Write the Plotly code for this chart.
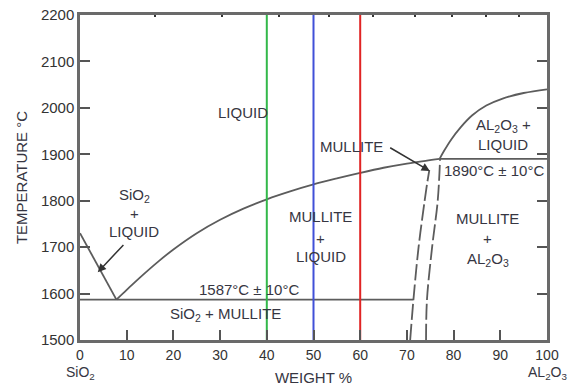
import plotly.graph_objects as go

# ---------------- data (weight % Al2O3, temperature in °C) ----------------
T_MIN, T_MAX = 1500, 2200
x_ticks = [0, 10, 20, 30, 40, 50, 60, 70, 80, 90, 100]
t_ticks = [1500, 1600, 1700, 1800, 1900, 2000, 2100, 2200]
top_tick_x = [16, 30.4, 42.6, 53.4, 62.7, 71.8, 79.6, 87, 94.1]

sio2_liquidus_x = [0, 7.8]
sio2_liquidus_t = [1730, 1587]

mullite_liquidus_x = [7.8, 10, 13, 17, 20, 25, 30, 35, 40, 45, 50, 55, 60, 65, 70, 74, 77]
mullite_liquidus_t = [1587, 1608, 1636, 1671, 1695, 1730, 1759, 1783, 1803, 1820, 1835, 1848, 1860, 1871, 1880, 1886, 1890]

al2o3_liquidus_x = [77, 78, 79.5, 81.5, 84, 87, 90.5, 95, 100]
al2o3_liquidus_t = [1890, 1908, 1932, 1958, 1984, 2005, 2020, 2032, 2040]

eutectic_x = [0, 71.4]
eutectic_t = [1587, 1587]

peritectic_x = [77, 100]
peritectic_t = [1890, 1890]

mullite_left_x = [70.7, 71.4, 72.5, 73.8, 74.3, 74.8]
mullite_left_t = [1500, 1587, 1700, 1800, 1835, 1866]

mullite_right_x = [74.1, 74.3, 75.4, 76.6, 77.1]
mullite_right_t = [1500, 1587, 1700, 1800, 1890]

ref_x = [40, 50, 60]
ref_colors = ["#33b84a", "#4150d8", "#e02424"]

# labels: (text, x, T)
labels = [
    ("LIQUID", 34.8, 1989),
    ("MULLITE", 58.2, 1916),
    ("SiO<sub>2</sub>", 11.6, 1812),
    ("+", 11.6, 1773),
    ("LIQUID", 11.6, 1734),
    ("MULLITE", 51.6, 1765),
    ("+", 51.6, 1719),
    ("LIQUID", 51.6, 1680),
    ("AL<sub>2</sub>O<sub>3</sub> +", 90.6, 1963),
    ("LIQUID", 90.6, 1922),
    ("1890°C ± 10°C", 88.6, 1866),
    ("MULLITE", 87.3, 1762),
    ("+", 87.3, 1719),
    ("AL<sub>2</sub>O<sub>3</sub>", 87.3, 1674),
    ("1587°C ± 10°C", 36.1, 1609),
    ("SiO<sub>2</sub> + MULLITE", 31.1, 1555),
]

# arrows: (tail x, tail T, head x, head T)
arrows = [
    (66.1, 1916, 74.9, 1864),
    (9.6, 1708, 3.8, 1646),
]

# ---------------- figure ----------------
LINE = "#5c5c5c"
TEXT = "#363642"
FONT = "Liberation Sans, Arial, sans-serif"

fig = go.Figure()


def add_line(x, y, dash=None, shape="linear", color=LINE, width=1.8, xa="x", ya="y"):
    fig.add_trace(go.Scatter(
        x=x, y=y, mode="lines",
        line=dict(color=color, width=width, dash=dash, shape=shape, smoothing=1.0),
        hoverinfo="skip", showlegend=False, xaxis=xa, yaxis=ya))


add_line(sio2_liquidus_x, sio2_liquidus_t)
add_line(mullite_liquidus_x, mullite_liquidus_t, shape="spline")
add_line(al2o3_liquidus_x, al2o3_liquidus_t, shape="spline")
add_line(eutectic_x, eutectic_t)
add_line(peritectic_x, peritectic_t)
add_line(mullite_left_x, mullite_left_t, dash="16px,4px", shape="spline")
add_line(mullite_right_x, mullite_right_t, dash="16px,4px", shape="spline")

for cx, col in zip(ref_x, ref_colors):
    add_line([cx, cx], [T_MIN, T_MAX], color=col, width=2, xa="x2", ya="y2")

annotations = []
for text, x, t in labels:
    annotations.append(dict(x=x, y=t, xref="x", yref="y", text=text, showarrow=False,
                            font=dict(family=FONT, size=15, color=TEXT)))
for tx, tt, hx, ht in arrows:
    annotations.append(dict(x=hx, y=ht, ax=tx, ay=tt, xref="x", yref="y", axref="x", ayref="y",
                            text="", showarrow=True, arrowhead=2, arrowsize=1.1,
                            arrowwidth=1.5, arrowcolor="#333333"))
annotations.append(dict(x=0, y=0, xref="x", yref="paper", yanchor="top", yshift=-22,
                        text="SiO<sub>2</sub>", showarrow=False,
                        font=dict(family=FONT, size=14, color=TEXT)))
annotations.append(dict(x=100, y=0, xref="x", yref="paper", yanchor="top", yshift=-22,
                        text="AL<sub>2</sub>O<sub>3</sub>", showarrow=False,
                        font=dict(family=FONT, size=14, color=TEXT)))

axis_common = dict(showgrid=False, zeroline=False, ticks="inside", ticklen=10,
                   tickwidth=2, tickcolor="#555555", automargin=False)

fig.update_layout(
    width=575, height=387,
    margin=dict(l=80, r=28, t=15, b=47),
    paper_bgcolor="white", plot_bgcolor="white",
    font=dict(family=FONT, color="#333333"),
    showlegend=False,
    xaxis=dict(range=[0, 100], tickvals=x_ticks, showline=True, linecolor="#6a6a6a",
               linewidth=2.5, mirror=True,
               tickfont=dict(size=14, color="#333333"),
               title=dict(text="WEIGHT %", font=dict(size=15, color=TEXT), standoff=11),
               **axis_common),
    yaxis=dict(range=[T_MIN, T_MAX], tickvals=t_ticks, showline=True, linecolor="#6a6a6a",
               linewidth=2.5, mirror=True,
               tickfont=dict(size=15, color="#333333"),
               title=dict(text="TEMPERATURE °C", font=dict(size=15, color=TEXT), standoff=10),
               **axis_common),
    xaxis2=dict(range=[0, 100], overlaying="x", side="top", tickvals=top_tick_x,
                ticks="inside", ticklen=2, tickwidth=1.5, tickcolor="#333333",
                showticklabels=False, showgrid=False, zeroline=False, showline=False),
    yaxis2=dict(range=[T_MIN, T_MAX], overlaying="y", side="right", tickvals=t_ticks,
                ticks="inside", ticklen=10, tickwidth=2, tickcolor="#555555",
                showticklabels=False, showgrid=False, zeroline=False, showline=False),
    annotations=annotations,
)

fig.write_html("out.html")
